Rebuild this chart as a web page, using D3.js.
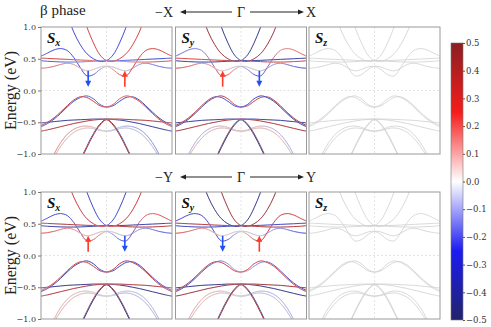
<!DOCTYPE html>
<html>
<head>
<meta charset="utf-8">
<script src="https://cdn.jsdelivr.net/npm/d3@7"></script>
<style>
  body { margin: 0; background: #fff; }
  svg { display: block; }
</style>
</head>
<body>
<div id="chart"></div>
<script>
// ---------------- data ----------------
// k along the path (-X .. Γ .. X), Γ at 0
const kGrid = [-1, -0.9, -0.8, -0.7, -0.6, -0.5, -0.4, -0.3, -0.2, -0.1, 0, 0.1, 0.2, 0.3, 0.4, 0.5, 0.6, 0.7, 0.8, 0.9, 1];

// band energies (eV), same for both paths
const bandL1 = [-1.45, -1.22, -1.0, -0.82, -0.69, -0.61, -0.57, -0.56, -0.58, -0.62, -0.64, -0.63, -0.60, -0.59, -0.61, -0.66, -0.75, -0.88, -1.05, -1.28, -1.5];
const bandL2 = [-1.5, -1.28, -1.05, -0.88, -0.75, -0.66, -0.61, -0.59, -0.60, -0.63, -0.64, -0.62, -0.58, -0.56, -0.57, -0.61, -0.69, -0.82, -1.0, -1.22, -1.45];
const bandP1 = [-2.6, -2.35, -2.1, -1.85, -1.6, -1.35, -1.1, -0.88, -0.68, -0.53, -0.45, -0.53, -0.68, -0.88, -1.1, -1.35, -1.6, -1.85, -2.1, -2.35, -2.6];
const bandP2 = [-2.62, -2.37, -2.12, -1.87, -1.62, -1.37, -1.12, -0.9, -0.7, -0.545, -0.46, -0.545, -0.7, -0.9, -1.12, -1.37, -1.62, -1.87, -2.12, -2.37, -2.62];
const bandX1 = [-0.51, -0.50, -0.49, -0.48, -0.47, -0.465, -0.46, -0.455, -0.45, -0.45, -0.45, -0.455, -0.465, -0.48, -0.50, -0.52, -0.545, -0.57, -0.595, -0.62, -0.64];
const bandX2 = [-0.64, -0.62, -0.595, -0.57, -0.545, -0.52, -0.50, -0.48, -0.465, -0.455, -0.45, -0.45, -0.45, -0.455, -0.46, -0.465, -0.47, -0.48, -0.49, -0.50, -0.51];
const bandM1 = [-0.57, -0.52, -0.45, -0.36, -0.26, -0.17, -0.11, -0.085, -0.13, -0.22, -0.26, -0.24, -0.17, -0.11, -0.10, -0.15, -0.24, -0.34, -0.43, -0.50, -0.55];
const bandM2 = [-0.55, -0.50, -0.43, -0.34, -0.24, -0.15, -0.10, -0.11, -0.17, -0.24, -0.26, -0.22, -0.13, -0.085, -0.11, -0.17, -0.26, -0.36, -0.45, -0.52, -0.57];
const bandH1 = [0.54, 0.59, 0.64, 0.66, 0.63, 0.52, 0.36, 0.23, 0.25, 0.33, 0.38, 0.37, 0.33, 0.31, 0.35, 0.41, 0.43, 0.41, 0.38, 0.36, 0.35];
const bandH2 = [0.35, 0.36, 0.38, 0.41, 0.43, 0.41, 0.35, 0.31, 0.33, 0.37, 0.38, 0.33, 0.25, 0.23, 0.36, 0.52, 0.63, 0.66, 0.64, 0.59, 0.54];
const bandF1 = [0.51, 0.505, 0.50, 0.495, 0.49, 0.485, 0.48, 0.475, 0.472, 0.47, 0.47, 0.465, 0.46, 0.455, 0.45, 0.448, 0.448, 0.45, 0.455, 0.46, 0.47];
const bandF2 = [0.47, 0.46, 0.455, 0.45, 0.448, 0.448, 0.45, 0.455, 0.46, 0.465, 0.47, 0.47, 0.472, 0.475, 0.48, 0.485, 0.49, 0.495, 0.50, 0.505, 0.51];
const bandS1 = [2.5, 2.15, 1.8, 1.5, 1.2, 0.92, 0.72, 0.58, 0.5, 0.46, 0.47, 0.56, 0.75, 1.0, 1.28, 1.58, 1.9, 2.2, 2.5, 2.8, 3.1];
const bandS2 = [3.1, 2.8, 2.5, 2.2, 1.9, 1.58, 1.28, 1.0, 0.75, 0.56, 0.47, 0.46, 0.5, 0.58, 0.72, 0.92, 1.2, 1.5, 1.8, 2.15, 2.5];

const bands = [bandL1, bandL2, bandP1, bandP2, bandX1, bandX2, bandM1, bandM2, bandH1, bandH2, bandF1, bandF2, bandS1, bandS2];

// spin expectation at these k knots, one row per band (same order as bands)
const spinK = [-1, -0.6, -0.25, -0.05, 0.05, 0.25, 0.6, 1];

const spinTopSx = [
  [0.2, 0.18, 0.12, 0.05, 0, -0.05, -0.08, -0.1],
  [0.1, 0.08, 0.05, 0, -0.05, -0.12, -0.18, -0.2],
  [-0.42, -0.42, -0.42, -0.42, -0.42, -0.42, -0.42, -0.42],
  [0.42, 0.42, 0.42, 0.42, 0.42, 0.42, 0.42, 0.42],
  [-0.42, -0.42, -0.42, -0.42, -0.42, -0.42, -0.42, -0.42],
  [0.4, 0.4, 0.4, 0.4, 0.4, 0.4, 0.4, 0.4],
  [-0.35, -0.3, -0.25, -0.3, -0.3, -0.35, -0.4, -0.4],
  [0.4, 0.4, 0.35, 0.3, 0.3, 0.25, 0.3, 0.35],
  [-0.3, -0.3, -0.3, -0.1, -0.05, -0.05, -0.2, -0.25],
  [0.25, 0.2, 0.05, 0.05, 0.1, 0.3, 0.3, 0.3],
  [0.35, 0.3, 0.25, 0.2, 0.2, 0.2, 0.25, 0.3],
  [-0.3, -0.25, -0.2, -0.2, -0.2, -0.25, -0.3, -0.35],
  [-0.3, -0.3, -0.3, -0.3, -0.3, -0.3, -0.3, -0.3],
  [0.3, 0.3, 0.3, 0.3, 0.3, 0.3, 0.3, 0.3]
];
const spinTopSy = [
  [-0.12, -0.12, 0.08, 0.08, 0.08, 0.1, 0.1, 0.08],
  [0.08, 0.1, 0.1, 0.08, 0.08, 0.08, -0.12, -0.12],
  [0.45, 0.45, 0.45, 0.45, 0.45, 0.45, 0.45, 0.45],
  [-0.45, -0.45, -0.45, -0.45, -0.45, -0.45, -0.45, -0.45],
  [-0.42, -0.42, -0.4, -0.35, 0.35, 0.4, 0.42, 0.42],
  [0.42, 0.42, 0.4, 0.35, -0.35, -0.4, -0.42, -0.42],
  [-0.42, -0.4, 0.35, 0.3, 0.3, 0.35, 0.4, 0.42],
  [0.4, 0.35, -0.3, -0.3, -0.3, -0.35, -0.4, -0.42],
  [-0.25, -0.2, 0.3, 0.15, 0.05, -0.05, -0.2, -0.3],
  [0.3, 0.2, 0.05, -0.05, -0.15, -0.3, 0.2, 0.25],
  [0.3, 0.3, 0.35, 0.35, 0.35, 0.35, 0.3, 0.3],
  [-0.4, -0.4, -0.4, -0.4, -0.4, -0.4, -0.4, -0.4],
  [0.45, 0.45, 0.45, 0.4, -0.4, -0.45, -0.45, -0.45],
  [-0.45, -0.45, -0.45, -0.4, 0.4, 0.45, 0.45, 0.45]
];
const spinBotSx = [
  [0.1, 0.1, 0.05, 0, -0.05, -0.08, -0.1, -0.12],
  [0.12, 0.1, 0.08, 0.05, 0, -0.05, -0.1, -0.1],
  [0.45, 0.45, 0.45, 0.45, 0.45, 0.45, 0.45, 0.45],
  [-0.45, -0.45, -0.45, -0.45, -0.45, -0.45, -0.45, -0.45],
  [-0.45, -0.45, -0.45, -0.45, -0.45, -0.45, -0.45, -0.45],
  [0.4, 0.4, 0.4, 0.4, 0.4, 0.4, 0.4, 0.4],
  [-0.35, -0.4, -0.4, -0.35, -0.35, -0.35, -0.3, -0.3],
  [0.3, 0.3, 0.35, 0.35, 0.35, 0.4, 0.4, 0.35],
  [-0.3, -0.3, 0.3, 0.15, 0.05, -0.1, -0.2, -0.3],
  [0.3, 0.2, 0.1, -0.05, -0.15, -0.3, 0.25, 0.3],
  [0.4, 0.4, 0.4, 0.4, 0.4, 0.4, 0.4, 0.4],
  [-0.4, -0.4, -0.4, -0.4, -0.4, -0.4, -0.4, -0.4],
  [0.35, 0.35, 0.35, 0.3, -0.3, -0.35, -0.35, -0.35],
  [-0.35, -0.35, -0.35, -0.3, 0.3, 0.35, 0.35, 0.35]
];
const spinBotSy = [
  [0.12, 0.12, 0.08, 0.05, 0, -0.05, -0.08, -0.12],
  [0.12, 0.08, 0.05, 0, -0.05, -0.08, -0.12, -0.12],
  [-0.45, -0.45, -0.45, -0.45, -0.45, -0.45, -0.45, -0.45],
  [0.45, 0.45, 0.45, 0.45, 0.45, 0.45, 0.45, 0.45],
  [-0.45, -0.45, -0.45, -0.45, -0.45, -0.45, -0.45, -0.45],
  [0.45, 0.45, 0.45, 0.45, 0.45, 0.45, 0.45, 0.45],
  [-0.35, -0.3, -0.2, -0.1, -0.1, -0.2, -0.3, -0.35],
  [0.4, 0.4, 0.35, 0.3, 0.3, 0.3, 0.3, 0.35],
  [-0.3, -0.35, -0.35, -0.1, -0.05, -0.05, -0.2, -0.3],
  [0.3, 0.2, 0.05, 0.05, 0.1, 0.35, 0.35, 0.3],
  [0.4, 0.4, 0.4, 0.4, 0.4, 0.4, 0.4, 0.4],
  [-0.35, -0.35, -0.35, -0.35, -0.35, -0.35, -0.35, -0.35],
  [-0.45, -0.45, -0.45, -0.45, -0.45, -0.45, -0.45, -0.45],
  [0.45, 0.45, 0.45, 0.45, 0.45, 0.45, 0.45, 0.45]
];

// arrows marking the band dips: k position, energy span, direction (+1 up/red, -1 down/blue)
const arrowK = [-0.28, 0.28];
const arrowE = [0.06, 0.31];
const arrowDirTopSx = [-1, 1];
const arrowDirTopSy = [1, -1];
const arrowDirBotSx = [1, -1];
const arrowDirBotSy = [-1, 1];

const energyTicks = [1.0, 0.5, 0.0, -0.5, -1.0];
const cbarTicks = [0.5, 0.4, 0.3, 0.2, 0.1, 0.0, -0.1, -0.2, -0.3, -0.4, -0.5];
const components = ["x", "y", "z"];
const rowEnds = [["\u2212X", "X"], ["\u2212Y", "Y"]];

const panelSpins = [[spinTopSx, spinTopSy, null], [spinBotSx, spinBotSy, null]];
const panelArrows = [[arrowDirTopSx, arrowDirTopSy, null], [arrowDirBotSx, arrowDirBotSy, null]];

// ---------------- layout ----------------
const W = 491, H = 327;
const panelX = [41, 175.5, 309];
const rowY = [27, 192];
const panelW = 131, panelH = 127;
const serif = "'Liberation Serif', 'Times New Roman', Times, serif";
const tickFont = "'DejaVu Serif', serif";

const svg = d3.select("#chart").append("svg")
  .attr("width", W).attr("height", H);
const defs = svg.append("defs");

const cbarColor = d3.scaleLinear()
  .domain([-0.5, -0.25, 0, 0.25, 0.5])
  .range(["#22236a", "#1c1cf2", "#ffffff", "#f51c1c", "#8b1f22"]);
// lines: near-zero spin shows as light grey like in the plot
const lineColor = d3.scaleLinear()
  .domain([-0.5, -0.3, -0.15, 0, 0.15, 0.3, 0.5])
  .range(["#2b2c6e", "#3d48e6", "#a8adf0", "#d6d6d6", "#f1a8a8", "#e4403f", "#8a2832"]);

const x = d3.scaleLinear().domain([-1, 1]).range([0, panelW]);
const y = d3.scaleLinear().domain([-1, 1]).range([panelH, 0]);

const line = d3.line()
  .x((d, i) => x(kGrid[i]))
  .y(d => y(d))
  .curve(d3.curveCatmullRom.alpha(0.5));

function drawArrow(g, k, dir) {
  const from = dir > 0 ? arrowE[0] : arrowE[1];
  const to = dir > 0 ? arrowE[1] : arrowE[0];
  const col = dir > 0 ? "#ff3a26" : "#2150f2";
  const px = x(k), y0 = y(from), y1 = y(to);
  const head = 6 * (dir > 0 ? 1 : -1);
  g.append("line")
    .attr("x1", px).attr("x2", px)
    .attr("y1", y0).attr("y2", y1 + head * 0.8)
    .attr("stroke", col).attr("stroke-width", 1.6);
  g.append("path")
    .attr("d", `M${px},${y1} L${px - 3},${y1 + head} L${px + 3},${y1 + head} Z`)
    .attr("fill", col);
}

rowY.forEach((ry, r) => {
  components.forEach((comp, c) => {
    const g = svg.append("g").attr("transform", `translate(${panelX[c]},${ry})`);
    const clipId = `clip-${r}-${c}`;
    defs.append("clipPath").attr("id", clipId)
      .append("rect").attr("width", panelW).attr("height", panelH);

    // dashed guides at E=0 and Γ
    g.append("line").attr("x1", 0).attr("x2", panelW).attr("y1", y(0)).attr("y2", y(0))
      .attr("stroke", "#d8d8d8").attr("stroke-width", 0.7).attr("stroke-dasharray", "2,2");
    g.append("line").attr("x1", x(0)).attr("x2", x(0)).attr("y1", 0).attr("y2", panelH)
      .attr("stroke", "#d8d8d8").attr("stroke-width", 0.7).attr("stroke-dasharray", "2,2");

    const lines = g.append("g").attr("clip-path", `url(#${clipId})`);
    const spins = panelSpins[r][c];

    bands.forEach((band, b) => {
      lines.append("path")
        .attr("d", line(band))
        .attr("fill", "none")
        .attr("stroke", spins ? "#d4d4d4" : "#cfcfcf")
        .attr("stroke-width", 0.8);
      if (!spins) return;
      const gid = `grad-${r}-${c}-${b}`;
      const grad = defs.append("linearGradient").attr("id", gid)
        .attr("gradientUnits", "userSpaceOnUse")
        .attr("x1", x(-1)).attr("x2", x(1)).attr("y1", 0).attr("y2", 0);
      spinK.forEach((k, j) => {
        grad.append("stop")
          .attr("offset", (k + 1) / 2)
          .attr("stop-color", lineColor(spins[b][j]));
      });
      lines.append("path")
        .attr("d", line(band))
        .attr("fill", "none")
        .attr("stroke", `url(#${gid})`)
        .attr("stroke-width", 1)
        .attr("stroke-opacity", 0.9);
    });

    const dirs = panelArrows[r][c];
    if (dirs) arrowK.forEach((k, i) => drawArrow(g, k, dirs[i]));

    g.append("rect").attr("width", panelW).attr("height", panelH)
      .attr("fill", "none").attr("stroke", "#9a9a9a").attr("stroke-width", 1);

    // panel label S_x / S_y / S_z
    const lab = g.append("text").attr("x", 6).attr("y", 16)
      .attr("font-family", serif)
      .attr("font-weight", "bold").attr("font-style", "italic")
      .attr("font-size", 15).attr("fill", "#111");
    lab.append("tspan").text("S");
    lab.append("tspan").attr("font-size", 10).attr("dy", 3).text(comp);

    if (c === 0) {
      const ax = g.append("g")
        .call(d3.axisLeft(y).tickValues(energyTicks).tickFormat(d3.format(".1f"))
          .tickSizeInner(3).tickSizeOuter(0));
      ax.select(".domain").remove();
      ax.selectAll("line").attr("stroke", "#777");
      ax.selectAll("text")
        .attr("font-family", tickFont)
        .attr("font-size", 8).attr("fill", "#333").attr("dx", 1);
    }
  });

  // y axis title
  svg.append("text")
    .attr("transform", `translate(16,${ry + panelH / 2}) rotate(-90)`)
    .attr("text-anchor", "middle")
    .attr("font-family", serif)
    .attr("font-size", 16).attr("fill", "#222")
    .text("Energy (eV)");

  // path header:  -X <---- Γ ----> X
  const cx = panelX[1] + panelW / 2;
  const hy = ry - 15;
  const hdr = svg.append("g").attr("font-family", serif)
    .attr("font-size", 14).attr("fill", "#222");
  hdr.append("text").attr("x", cx - 68).attr("y", hy + 5).attr("text-anchor", "end").text(rowEnds[r][0]);
  hdr.append("text").attr("x", cx).attr("y", hy + 5).attr("text-anchor", "middle").text("\u0393");
  hdr.append("text").attr("x", cx + 65).attr("y", hy + 5).attr("text-anchor", "start").text(rowEnds[r][1]);
  [[cx - 9, cx - 61], [cx + 9, cx + 63]].forEach(([a, bEnd]) => {
    const s = Math.sign(bEnd - a);
    svg.append("line").attr("x1", a).attr("x2", bEnd - s * 4).attr("y1", hy).attr("y2", hy)
      .attr("stroke", "#222").attr("stroke-width", 1);
    svg.append("path")
      .attr("d", `M${bEnd},${hy} L${bEnd - s * 6},${hy - 2.6} L${bEnd - s * 6},${hy + 2.6} Z`)
      .attr("fill", "#222");
  });
});

// title
svg.append("text").attr("x", 40).attr("y", 15)
  .attr("font-family", serif).attr("font-size", 15).attr("fill", "#222")
  .text("\u03b2 phase");

// ---------------- colorbar ----------------
const cbX = 451, cbY = 43, cbW = 12, cbH = 277;
const cbScale = d3.scaleLinear().domain([-0.5, 0.5]).range([cbY + cbH, cbY]);
const cbGrad = defs.append("linearGradient").attr("id", "cbar")
  .attr("x1", 0).attr("x2", 0).attr("y1", 1).attr("y2", 0);
d3.range(0, 1.0001, 0.05).forEach(t => {
  cbGrad.append("stop").attr("offset", t).attr("stop-color", cbarColor(-0.5 + t));
});
svg.append("rect").attr("x", cbX).attr("y", cbY).attr("width", cbW).attr("height", cbH)
  .attr("fill", "url(#cbar)").attr("stroke", "#777").attr("stroke-width", 0.6);
const cbAxis = svg.append("g").attr("transform", `translate(${cbX + cbW},0)`)
  .call(d3.axisRight(cbScale).tickValues(cbarTicks).tickFormat(d3.format(".1f"))
    .tickSizeInner(2).tickSizeOuter(0));
cbAxis.select(".domain").remove();
cbAxis.selectAll("line").attr("stroke", "#555");
cbAxis.selectAll("text")
  .attr("font-family", tickFont)
  .attr("font-size", 8.5).attr("fill", "#333").attr("x", 3);
</script>
</body>
</html>
